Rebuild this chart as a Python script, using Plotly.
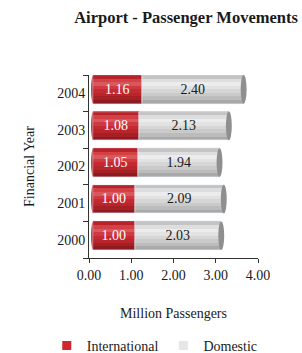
import plotly.graph_objects as go

years = ["2000", "2001", "2002", "2003", "2004"]
international = [1.00, 1.00, 1.05, 1.08, 1.16]
domestic = [2.03, 2.09, 1.94, 2.13, 2.40]
x_ticks = [0, 1, 2, 3, 4]
x_tick_labels = ["0.00", "1.00", "2.00", "3.00", "4.00"]

FONT = "Liberation Serif"
BAR_W = 0.78
LIFT = 0.11  # pseudo-3D upward shift (category units)

# cylinder shading profiles (bottom -> top)
red_grad = ["#8e1a1f", "#a61f25", "#b8252b", "#c42a31", "#cf3a40", "#d9585d", "#d24146", "#b92229"]
gray_grad = ["#a9a9a9", "#bcbcbc", "#cacaca", "#d6d6d6", "#e2e2e2", "#ececec", "#dedede", "#c4c4c4"]

fig = go.Figure()

# invisible trace anchoring the visible x axis
fig.add_trace(go.Bar(y=years, x=[0] * len(years), orientation="h", xaxis="x",
                     marker=dict(color="rgba(0,0,0,0)"), showlegend=False, hoverinfo="skip"))

n = len(red_grad)
sw = BAR_W / n
for series, base_vals, grad in [
    (international, [0] * len(years), red_grad),
    (domestic, international, gray_grad),
]:
    for k, col in enumerate(grad):
        fig.add_trace(go.Bar(
            y=years, x=series, base=base_vals, orientation="h",
            width=sw + 0.005, offset=-BAR_W / 2 + LIFT + k * sw,
            marker=dict(color=col, line=dict(width=0)),
            xaxis="x2", showlegend=False, hoverinfo="skip",
        ))

# labels
fig.add_trace(go.Bar(
    y=years, x=international, orientation="h", width=BAR_W, offset=-BAR_W / 2 + LIFT,
    marker=dict(color="rgba(0,0,0,0)"), text=[f"{v:.2f}" for v in international],
    textposition="inside", insidetextanchor="middle",
    textfont=dict(family=FONT, size=14, color="white"),
    xaxis="x2", showlegend=False, hoverinfo="skip",
))
fig.add_trace(go.Bar(
    y=years, x=domestic, base=international, orientation="h", width=BAR_W, offset=-BAR_W / 2 + LIFT,
    marker=dict(color="rgba(0,0,0,0)"), text=[f"{v:.2f}" for v in domestic],
    textposition="inside", insidetextanchor="middle",
    textfont=dict(family=FONT, size=14, color="#1a1a1a"),
    xaxis="x2", showlegend=False, hoverinfo="skip",
))

# legend entries
fig.add_trace(go.Scatter(y=[None], x=[None], mode="markers", name="International",
                         marker=dict(color="#d2262e", symbol="square", size=9), xaxis="x2"))
fig.add_trace(go.Scatter(y=[None], x=[None], mode="markers", name="Domestic",
                         marker=dict(color="#e6e6e6", symbol="square", size=9), xaxis="x2"))

# end caps of cylinders
shapes = []
for i, (a, b) in enumerate(zip(international, domestic)):
    end = a + b
    shapes.append(dict(type="circle", xref="x2", yref="y",
                       x0=end - 0.07, x1=end + 0.07,
                       y0=i - BAR_W / 2 + LIFT, y1=i + BAR_W / 2 + LIFT,
                       fillcolor="#8f8f8f", line=dict(width=0), layer="above"))
    shapes.append(dict(type="circle", xref="x2", yref="y",
                       x0=-0.05, x1=0.05,
                       y0=i - BAR_W / 2 + LIFT, y1=i + BAR_W / 2 + LIFT,
                       fillcolor="#b3232a", line=dict(width=0), layer="below"))

fig.update_layout(
    width=302, height=353,
    margin=dict(l=89, r=44, t=75, b=95, autoexpand=False),
    paper_bgcolor="white", plot_bgcolor="white",
    barmode="overlay", bargap=0,
    font=dict(family=FONT, size=14, color="#1a1a1a"),
    title=dict(text="<b>Airport - Passenger Movements</b>", x=0.616, xanchor="center",
               y=0.952, yanchor="middle", font=dict(family=FONT, size=16.5, color="#1a1a1a")),
    xaxis=dict(range=[0, 4], tickvals=x_ticks, ticktext=x_tick_labels,
               showgrid=False, zeroline=False, showline=True, linecolor="#333", linewidth=1,
               ticks="outside", ticklen=4, tickcolor="#333", automargin=False,
               title=dict(text="Million Passengers", standoff=26, font=dict(size=14))),
    xaxis2=dict(range=[-0.1, 3.9], overlaying="x", visible=False),
    yaxis=dict(categoryorder="array", categoryarray=years, showgrid=False, zeroline=False,
               showline=True, linecolor="#333", linewidth=1, ticks="outside", ticklen=5,
               tickson="boundaries", tickcolor="#333", range=[-0.5, 4.5], automargin=False,
               title=dict(text="Financial Year", standoff=19, font=dict(size=14))),
    legend=dict(orientation="h", x=-0.25, xanchor="left", y=-0.48, yanchor="middle",
                font=dict(size=14), traceorder="normal", itemwidth=30,
                bgcolor="rgba(0,0,0,0)"),
    shapes=shapes,
)

fig.write_html("out.html", post_script="document.body.style.margin='0';",
               config={"displayModeBar": False})
